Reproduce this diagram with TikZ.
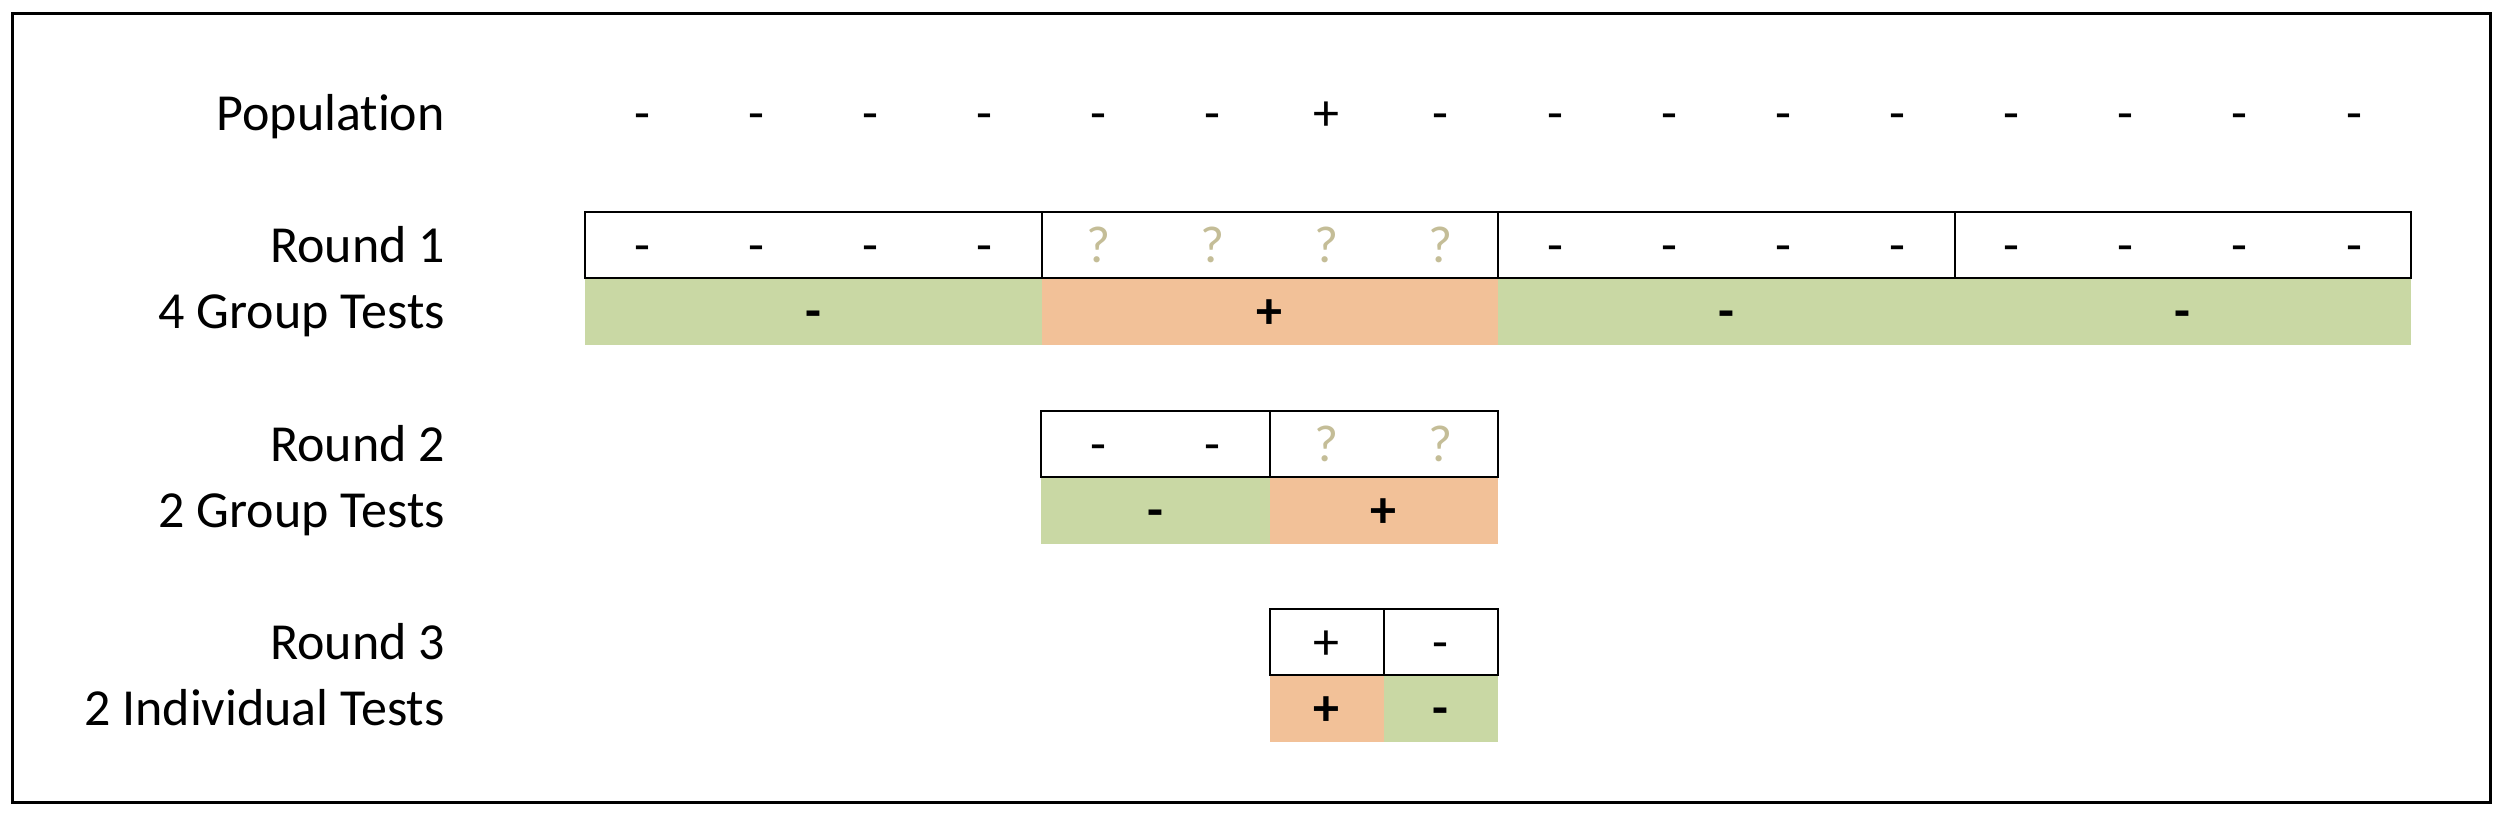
\documentclass[tikz,border=0pt]{standalone}
\usepackage{fontspec}
\setmainfont{Carlito}[Ligatures={NoCommon}]
\definecolor{neggreen}{HTML}{C9D8A4}
\definecolor{posorange}{HTML}{F2C198}
\definecolor{unknowntan}{HTML}{C4BD97}
\begin{document}
\begin{tikzpicture}[x=1pt,y=-1pt,
  lbl/.style={anchor=base east, inner sep=0pt, font=\fontsize{52}{62}\selectfont},
  sign/.style={anchor=base, inner sep=0pt, font=\fontsize{52}{62}\selectfont},
  bsign/.style={anchor=base, inner sep=0pt, font=\fontsize{52}{62}\selectfont\bfseries},
  qsign/.style={sign, text=unknowntan},
  cellbox/.style={draw=black, line width=2pt, inner sep=0pt, minimum height=66pt},
  negbar/.style={fill=neggreen, inner sep=0pt, minimum height=67pt},
  posbar/.style={fill=posorange, inner sep=0pt, minimum height=67pt},
  frameline/.style={draw=black, line width=3pt, inner sep=0pt}]
\useasboundingbox (0,0) rectangle (2506,818);
\def\cw{114.125}
% outer frame
\node[frameline, minimum width=2478pt, minimum height=788pt] (frame) at (1251.6,408) {};
% labels
\node[lbl] (lpop) at (445,131) {Population};
\node[lbl] (lr1) at (445,263) {Round 1};
\node[lbl] (lg1) at (445,328) {4 Group Tests};
\node[lbl] (lr2) at (445,461.5) {Round 2};
\node[lbl] (lg2) at (445,527) {2 Group Tests};
\node[lbl] (lr3) at (445,659.5) {Round 3};
\node[lbl] (lg3) at (445,725) {2 Individual Tests};
% population
\foreach \i in {1,...,16}{
  \pgfmathsetmacro{\cx}{585+\cw*(\i-0.5)}
  \ifnum\i=7
    \node[sign] (pop\i) at (\cx,131) {+};
  \else
    \node[sign] (pop\i) at (\cx,131) {-};
  \fi
}
% Round 1 bars
\node[negbar, minimum width=456.5pt] (b1g1) at (813.25,311.7) {};
\node[posbar, minimum width=456.5pt] (b1g2) at (1269.75,311.7) {};
\node[negbar, minimum width=456.5pt] (b1g3) at (1726.25,311.7) {};
\node[negbar, minimum width=456.5pt] (b1g4) at (2182.75,311.7) {};
\node[bsign] (s1g1) at (813.25,328) {-};
\node[bsign] (s1g2) at (1269.75,328) {+};
\node[bsign] (s1g3) at (1726.25,328) {-};
\node[bsign] (s1g4) at (2182.75,328) {-};
% Round 1 boxes
\node[cellbox, minimum width=456.5pt] (c1g1) at (813.25,245.3) {};
\node[cellbox, minimum width=456.5pt] (c1g2) at (1269.75,245.3) {};
\node[cellbox, minimum width=456.5pt] (c1g3) at (1726.25,245.3) {};
\node[cellbox, minimum width=456.5pt] (c1g4) at (2182.75,245.3) {};
\foreach \i in {1,...,16}{
  \pgfmathsetmacro{\cx}{585+\cw*(\i-0.5)}
  \ifnum\i>4 \ifnum\i<9
    \node[qsign] (r1s\i) at (\cx,263) {?};
  \else
    \node[sign] (r1s\i) at (\cx,263) {-};
  \fi \else
    \node[sign] (r1s\i) at (\cx,263) {-};
  \fi
}
% Round 2 bars
\node[negbar, minimum width=228.25pt] (b2g1) at (1155.6,510.5) {};
\node[posbar, minimum width=228.25pt] (b2g2) at (1383.9,510.5) {};
\node[bsign] (s2g1) at (1155.6,527) {-};
\node[bsign] (s2g2) at (1383.9,527) {+};
% Round 2 boxes
\node[cellbox, minimum width=228.25pt] (c2g1) at (1155.6,444) {};
\node[cellbox, minimum width=228.25pt] (c2g2) at (1383.9,444) {};
\node[sign] (r2s5) at (1098.6,461.5) {-};
\node[sign] (r2s6) at (1212.7,461.5) {-};
\node[qsign] (r2s7) at (1326.8,461.5) {?};
\node[qsign] (r2s8) at (1440.9,461.5) {?};
% Round 3 bars
\node[posbar, minimum width=114.125pt] (b3g1) at (1326.8,708.2) {};
\node[negbar, minimum width=114.125pt] (b3g2) at (1440.9,708.2) {};
\node[bsign] (s3g1) at (1326.8,725) {+};
\node[bsign] (s3g2) at (1440.9,725) {-};
% Round 3 boxes
\node[cellbox, minimum width=114.125pt] (c3g1) at (1326.8,641.7) {};
\node[cellbox, minimum width=114.125pt] (c3g2) at (1440.9,641.7) {};
\node[sign] (r3s7) at (1326.8,659.5) {+};
\node[sign] (r3s8) at (1440.9,659.5) {-};
\end{tikzpicture}
\end{document}
